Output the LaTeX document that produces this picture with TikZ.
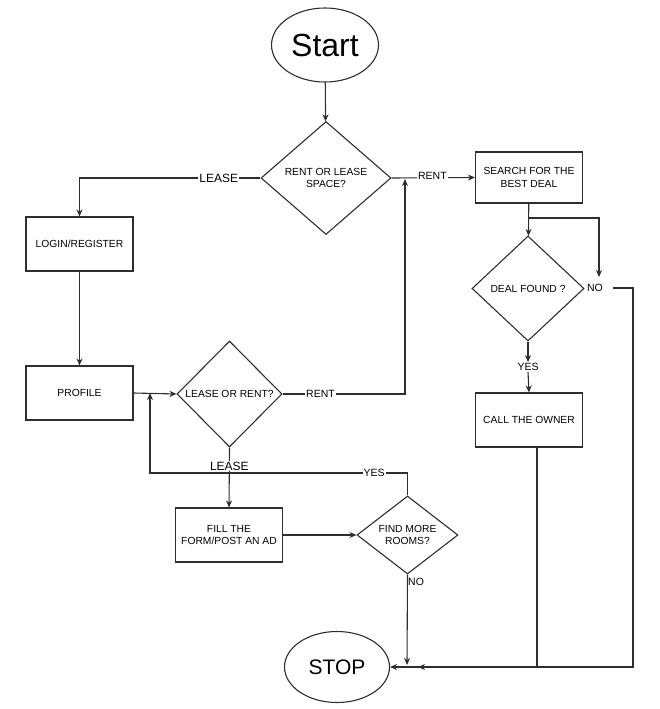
\documentclass[tikz,border=0pt]{standalone}
\usepackage{fontspec}
\setmainfont{Liberation Sans}
\usetikzlibrary{shapes.geometric,arrows.meta}
\definecolor{ln}{HTML}{2E2E2E}
\tikzset{
  boxnode/.style={draw=ln,line width=1.1pt,minimum width=107pt,minimum height=54pt,align=center,inner sep=1pt,font=\fontsize{10.3}{12.7}\selectfont},
  dia/.style={draw=ln,line width=1.1pt,diamond,align=center,inner sep=0pt,font=\fontsize{10.3}{12.7}\selectfont},
  oval/.style={draw=ln,line width=1.1pt,ellipse,inner sep=0pt},
  arr/.style={draw=ln,line width=1.1pt,-{Stealth[length=7pt,width=6pt]}},
  lbl/.style={fill=white,inner sep=1pt,font=\fontsize{10.5}{12}\selectfont},
  lbllease/.style={fill=white,inner sep=1pt,font=\fontsize{12}{14}\selectfont},
  txt/.style={inner sep=1pt,font=\fontsize{10.5}{12}\selectfont}
}
\begin{document}
\begin{tikzpicture}[x=1pt,y=-1pt]
\useasboundingbox (0,0) rectangle (660,709);
% nodes
\node[oval,minimum width=107pt,minimum height=74pt,font=\fontsize{32}{36}\selectfont] (start) at (325,45) {Start};
\node[dia,minimum width=130pt,minimum height=113pt] (d1) at (326,178) {RENT OR LEASE\\SPACE?};
\node[boxnode] (login) at (79.5,244) {LOGIN/REGISTER};
\node[boxnode] (profile) at (79.5,393) {PROFILE};
\node[dia,minimum width=105pt,minimum height=106pt] (d2) at (229.5,394) {LEASE OR RENT?};
\node[boxnode,minimum height=51pt] (search) at (529,177.5) {SEARCH FOR THE\\BEST DEAL};
\node[dia,minimum width=112pt,minimum height=105pt] (d3) at (528,288.5) {DEAL FOUND ?};
\node[txt] (no1) at (595,288) {NO};
\node[txt] (yes1) at (528,367) {YES};
\node[boxnode] (call) at (529,420) {CALL THE OWNER};
\node[boxnode] (fill) at (229,535) {FILL THE\\FORM/POST AN AD};
\node[dia,aspect=1.3,minimum width=101pt,minimum height=78pt] (d4) at (407.5,535) {FIND MORE\\ROOMS?};
\node[oval,minimum width=105pt,minimum height=71pt,font=\fontsize{21}{24}\selectfont] (stop) at (337,667) {STOP};
% coordinates
\coordinate (j1) at (405,179);
\coordinate (j2) at (150,393);
\coordinate (b1) at (529,218);
\coordinate (nb) at (599,277);
\coordinate (ne) at (613,288);
\coordinate (j3) at (407,665);
\coordinate (j4) at (418,667);
% connectors
\draw[arr] (start) -- (d1);
\draw[arr] (d1.west) -- node[lbllease,pos=0.23]{LEASE} (login.north |- d1.west) -- (login.north);
\draw[arr] (d1.east) -- node[lbl,pos=0.49,yshift=2pt]{RENT} (search.west);
\draw[arr] (login) -- (profile);
\draw[arr] (profile.east) -- (d2.west);
\draw[arr] (d2.east) -- node[lbl,pos=0.31]{RENT} (j1 |- d2.east) -- (j1);
\draw[arr] (d4.north) -- (d4.north |- 0,473) -- node[lbl,pos=0.13]{YES} (j2 |- 0,473) -- (j2);
\draw[arr] (d2.south) -- node[lbllease,pos=0.31]{LEASE} (fill.north);
\draw[arr] (fill.east) -- (d4.west);
\draw[arr] (d4.south) -- (j3);
\node[txt,anchor=west] (no2) at (407,582) {NO};
\draw[arr] (search) -- (d3);
\draw[arr] (b1) -| (nb);
\draw[arr] (ne) -- (633,288) |- (j4);
\draw[arr] (d3.south) -- (yes1.north);
\draw[arr] (yes1.south) -- (call.north);
\draw[arr] ([xshift=8pt]call.south) |- (stop.east);
\end{tikzpicture}
\end{document}
